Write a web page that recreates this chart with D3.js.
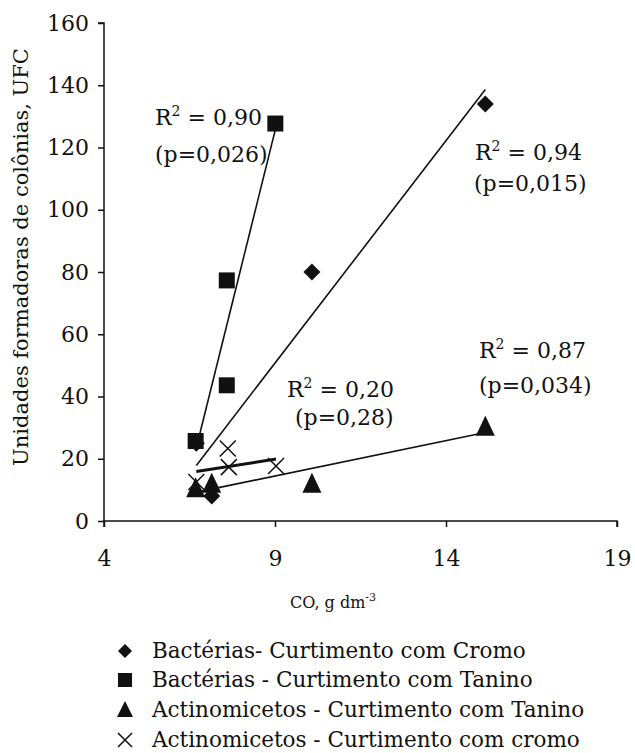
<!DOCTYPE html>
<html>
<head>
<meta charset="utf-8">
<script src="https://cdn.jsdelivr.net/npm/d3@7"></script>
<style>
html,body{margin:0;padding:0;background:#fff;}
svg{display:block;}
text{font-family:"DejaVu Serif","Liberation Serif",serif;fill:#111;}
</style>
</head>
<body>
<svg id="chart" width="635" height="753"></svg>
<script>
// ---- data ----
const xTicks = [4, 9, 14, 19];
const yTicks = [0, 20, 40, 60, 80, 100, 120, 140, 160];
const seriesNames = [
  "Bactérias- Curtimento com Cromo",
  "Bactérias - Curtimento com Tanino",
  "Actinomicetos - Curtimento com Tanino",
  "Actinomicetos - Curtimento com cromo"
];
const bactCromoX = [6.7, 7.15, 10.08, 15.15];
const bactCromoY = [25, 8, 80, 134];
const bactTaninoX = [6.68, 7.59, 7.59, 9.01];
const bactTaninoY = [25.7, 43.6, 77.3, 127.7];
const actTaninoX = [6.68, 7.15, 10.08, 15.15];
const actTaninoY = [10.5, 12, 12, 30.3];
const actCromoX = [6.7, 7.62, 7.65, 9.03];
const actCromoY = [12.5, 23.3, 17.3, 17.7];
const r2Labels = ["R² = 0,94", "R² = 0,90", "R² = 0,87", "R² = 0,20"];
const pLabels = ["(p=0,015)", "(p=0,026)", "(p=0,034)", "(p=0,28)"];

// ---- layout ----
const svg = d3.select("#chart");
const x = d3.scaleLinear().domain([4, 19]).range([104, 617]);
const y = d3.scaleLinear().domain([0, 160]).range([521, 23]);

const series = [
  {name: seriesNames[0], xs: bactCromoX, ys: bactCromoY, sym: "diamond", lw: 1.6},
  {name: seriesNames[1], xs: bactTaninoX, ys: bactTaninoY, sym: "square", lw: 1.6},
  {name: seriesNames[2], xs: actTaninoX, ys: actTaninoY, sym: "triangle", lw: 1.6},
  {name: seriesNames[3], xs: actCromoX, ys: actCromoY, sym: "cross", lw: 3}
];

// axes
const yAxis = d3.axisLeft(y).tickValues(yTicks).tickSize(6).tickPadding(9).tickFormat(d3.format("d"));
const xAxis = d3.axisBottom(x).tickValues(xTicks).tickSize(6).tickPadding(23).tickFormat(d3.format("d"));
const gy = svg.append("g").attr("transform", `translate(${x(4)},0)`).call(yAxis);
const gx = svg.append("g").attr("transform", `translate(0,${y(0)})`).call(xAxis);
[gx, gy].forEach(g => {
  g.select(".domain").attr("stroke", "#111").attr("stroke-width", 1.5);
  g.selectAll(".tick line").attr("stroke", "#111").attr("stroke-width", 1.5);
  g.selectAll(".tick text").style("font-family", '"DejaVu Serif",serif').style("font-size", "22px").attr("fill", "#111");
});
gy.select(".domain").attr("d", `M-6,${y(160)}H0V${y(0)}`);
gx.select(".domain").attr("d", `M${x(4)},6V0H${x(19)}V6`);

// regression lines
function fit(xs, ys) {
  const n = xs.length, mx = d3.mean(xs), my = d3.mean(ys);
  let sxy = 0, sxx = 0;
  for (let i = 0; i < n; i++) { sxy += (xs[i]-mx)*(ys[i]-my); sxx += (xs[i]-mx)**2; }
  const b = sxy / sxx, a = my - b*mx;
  const x0 = d3.min(xs), x1 = d3.max(xs);
  return [[x0, a + b*x0], [x1, a + b*x1]];
}
series.forEach(s => {
  const [p0, p1] = fit(s.xs, s.ys);
  svg.append("line")
    .attr("x1", x(p0[0])).attr("y1", y(p0[1]))
    .attr("x2", x(p1[0])).attr("y2", y(p1[1]))
    .attr("stroke", "#111").attr("stroke-width", s.lw);
});

// markers
function drawMarker(g, sym, cx, cy) {
  if (sym === "diamond") {
    g.append("path").attr("d", `M${cx},${cy-8.5}L${cx+8.5},${cy}L${cx},${cy+8.5}L${cx-8.5},${cy}Z`).attr("fill", "#111");
  } else if (sym === "square") {
    g.append("rect").attr("x", cx-8).attr("y", cy-8).attr("width", 16).attr("height", 16).attr("fill", "#111");
  } else if (sym === "triangle") {
    g.append("path").attr("d", `M${cx},${cy-11}L${cx+9.5},${cy+9}L${cx-9.5},${cy+9}Z`).attr("fill", "#111");
  } else {
    g.append("path").attr("d", `M${cx-8},${cy-8}L${cx+8},${cy+8}M${cx+8},${cy-8}L${cx-8},${cy+8}`).attr("stroke", "#111").attr("stroke-width", 1.5).attr("fill", "none");
  }
}
const order = [3, 0, 2, 1];
order.forEach(k => {
  const s = series[k];
  const g = svg.append("g");
  s.xs.forEach((v, i) => drawMarker(g, s.sym, x(v), y(s.ys[i])));
});

// annotations
function supText(t, px, py) {
  const parts = t.split("²");
  const el = svg.append("text").attr("x", px).attr("y", py).style("font-size", "22px");
  el.append("tspan").text(parts[0]);
  if (parts.length > 1) {
    el.append("tspan").attr("dy", -9).style("font-size", "14px").text("2");
    el.append("tspan").attr("dy", 9).text(parts[1]);
  }
}
const annPos = [[475, 160, 474, 191], [155, 125, 155, 162], [479, 358, 479, 393], [287, 397, 295, 425]];
annPos.forEach((p, i) => {
  supText(r2Labels[i], p[0], p[1]);
  svg.append("text").attr("x", p[2]).attr("y", p[3]).style("font-size", "22px").text(pLabels[i]);
});

// axis titles
const xt = svg.append("text").attr("x", 333).attr("y", 608).attr("text-anchor", "middle").style("font-size", "16px");
xt.append("tspan").text("CO, g dm");
xt.append("tspan").attr("dy", -7).style("font-size", "11px").text("-3");
svg.append("text").attr("transform", "translate(28,257) rotate(-90)").attr("text-anchor", "middle").style("font-size", "21px")
  .text("Unidades formadoras de colônias, UFC");

// legend
const legY = [651, 680, 710, 740];
series.forEach((s, i) => {
  const g = svg.append("g");
  if (s.sym === "diamond") g.append("path").attr("d", `M125,${legY[i]-7}L132,${legY[i]}L125,${legY[i]+7}L118,${legY[i]}Z`).attr("fill", "#111");
  else if (s.sym === "square") g.append("rect").attr("x", 118).attr("y", legY[i]-7).attr("width", 14).attr("height", 14).attr("fill", "#111");
  else if (s.sym === "triangle") g.append("path").attr("d", `M125,${legY[i]-9}L133,${legY[i]+7}L117,${legY[i]+7}Z`).attr("fill", "#111");
  else g.append("path").attr("d", `M118,${legY[i]-7}L132,${legY[i]+7}M132,${legY[i]-7}L118,${legY[i]+7}`).attr("stroke", "#111").attr("stroke-width", 1.5);
  svg.append("text").attr("x", 152).attr("y", legY[i] + 7).style("font-size", "21.5px").text(s.name);
});
</script>
</body>
</html>
